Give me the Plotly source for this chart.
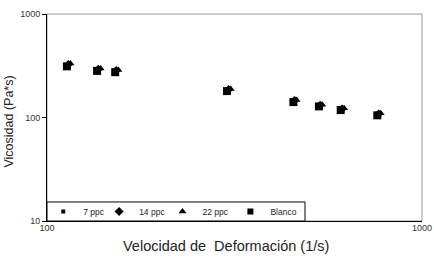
import plotly.graph_objects as go

shear_rate = [114, 137, 153, 305, 457, 535, 612, 766]
visc_7 = [320, 290, 282, 184, 144, 130, 120, 107]
visc_14 = [325, 292, 284, 186, 146, 131, 121, 108]
visc_22 = [332, 298, 288, 189, 148, 133, 123, 110]
visc_blanco = [312, 282, 274, 180, 141, 128, 118, 105]

rate_22 = [115.5, 139, 155, 309, 463, 542, 620, 776]
rate_blanco = [113, 136, 152, 302, 454, 531, 607, 760]

names = ["7 ppc", "14 ppc", "22 ppc", "Blanco"]
x_title = "Velocidad de  Deformación (1/s)"
y_title = "Vicosidad (Pa*s)"

fig = go.Figure()
fig.add_trace(go.Scatter(x=rate_blanco, y=visc_blanco, mode="markers", name=names[3],
                         marker=dict(symbol="square", size=8, color="black"), showlegend=False))
fig.add_trace(go.Scatter(x=shear_rate, y=visc_7, mode="markers", name=names[0], legend="legend",
                         marker=dict(symbol="square", size=4, color="black")))
fig.add_trace(go.Scatter(x=shear_rate, y=visc_14, mode="markers", name=names[1], legend="legend2",
                         marker=dict(symbol="diamond", size=7, color="black")))
fig.add_trace(go.Scatter(x=rate_22, y=visc_22, mode="markers", name=names[2], legend="legend3",
                         marker=dict(symbol="triangle-up", size=7, color="black")))
fig.add_trace(go.Scatter(x=[None], y=[None], mode="markers", name=names[3], legend="legend4",
                         marker=dict(symbol="square", size=6, color="black")))

font_family = "Liberation Sans, Arial, sans-serif"
leg_x = [-0.010, 0.139, 0.308, 0.489]


def leg(x):
    return dict(orientation="h", x=x, y=0.046, xanchor="left", yanchor="middle",
                borderwidth=0, bgcolor="rgba(0,0,0,0)",
                font=dict(size=8.5, color="#222"), itemwidth=30)


fig.update_layout(
    width=434, height=257,
    margin=dict(l=47, r=12, t=14, b=36),
    paper_bgcolor="white", plot_bgcolor="white",
    font=dict(family=font_family, color="#222"),
    xaxis=dict(type="log", range=[2, 3], tickvals=[100, 1000], ticktext=["100", "1000"],
               automargin=False, ticklabelstandoff=-2,
               showgrid=False, zeroline=False, showline=True, linecolor="black", linewidth=1,
               ticks="", tickfont=dict(size=9, color="#333")),
    yaxis=dict(type="log", range=[1, 3], tickvals=[10, 100, 1000], ticktext=["10", "100", "1000"],
               automargin=False,
               showgrid=False, zeroline=False, showline=True, linecolor="black", linewidth=1,
               ticks="outside", ticklen=4, tickcolor="black", tickfont=dict(size=9, color="#333")),
    legend=leg(leg_x[0]),
    legend2=leg(leg_x[1]),
    legend3=leg(leg_x[2]),
    legend4=leg(leg_x[3]),
    shapes=[
        dict(type="rect", xref="paper", yref="paper", x0=0, y0=0, x1=1, y1=1,
             line=dict(color="#999", width=1), layer="below"),
        dict(type="rect", xref="paper", yref="paper", x0=0, y0=0, x1=0.688, y1=0.092,
             line=dict(color="black", width=1), fillcolor="white", layer="below"),
    ],
    annotations=[
        dict(text=x_title, xref="paper", yref="paper", x=0.476, y=-0.121,
             xanchor="center", yanchor="middle", showarrow=False,
             font=dict(size=14.5, color="#222")),
        dict(text=y_title, xref="paper", yref="paper", x=-0.101, y=0.481, textangle=-90,
             xanchor="center", yanchor="middle", showarrow=False,
             font=dict(size=12.5, color="#222")),
    ],
)

fig.write_html("out.html", config={"displayModeBar": False},
               post_script="document.body.style.margin='0';document.body.style.padding='0';")
